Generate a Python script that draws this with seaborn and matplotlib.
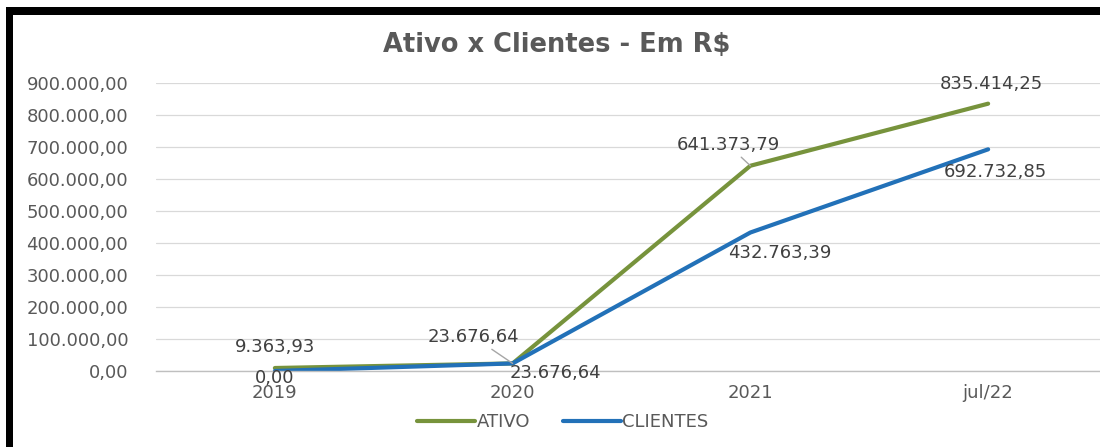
import matplotlib
matplotlib.use("Agg")
import matplotlib.pyplot as plt
from matplotlib.patches import Rectangle
from matplotlib.lines import Line2D
import seaborn as sns
import pandas as pd

categories = ["2019", "2020", "2021", "jul/22"]
ativo = [9363.93, 23676.64, 641373.79, 835414.25]
clientes = [0.00, 23676.64, 432763.39, 692732.85]
yticks = [0, 100000, 200000, 300000, 400000, 500000, 600000, 700000, 800000, 900000]

def br(v):
    s = f"{v:,.2f}"
    return s.replace(",", "X").replace(".", ",").replace("X", ".")

df = pd.DataFrame({
    "cat": categories * 2,
    "valor": ativo + clientes,
    "serie": ["ATIVO"] * 4 + ["CLIENTES"] * 4,
})

sns.set_theme(style="white")
plt.rcParams["font.family"] = ["DejaVu Sans"]

GREEN = "#77933C"
BLUE = "#2271B8"
GRAY = "#595959"
FS = 13

fig = plt.figure(figsize=(11, 4.47), dpi=100)
ax = fig.add_axes([156 / 1100, 76 / 447, 951 / 1100, 288 / 447])

sns.lineplot(data=df, x="cat", y="valor", hue="serie", sort=False,
             palette={"ATIVO": GREEN, "CLIENTES": BLUE}, linewidth=3.0,
             legend=False, ax=ax)

ax.set_xlim(-0.5, 3.5)
ax.set_ylim(0, 900000)
ax.set_yticks(yticks)
ax.set_yticklabels([br(v) for v in yticks])
ax.set_xlabel("")
ax.set_ylabel("")
ax.grid(axis="y", color="#D9D9D9", linewidth=0.9)
ax.set_axisbelow(True)
for s in ["top", "right", "left"]:
    ax.spines[s].set_visible(False)
ax.spines["bottom"].set_color("#BFBFBF")
ax.spines["bottom"].set_linewidth(1.0)
ax.tick_params(axis="y", length=0, pad=20, labelsize=FS, labelcolor=GRAY)
ax.tick_params(axis="x", length=0, pad=9, labelsize=FS, labelcolor=GRAY)

lab_kw = dict(textcoords="offset points", ha="center", va="center",
              fontsize=FS, color="#404040")
leader = dict(arrowstyle="-", color="#A6A6A6", lw=1.0, shrinkA=0, shrinkB=0)

# ATIVO labels
ax.annotate(br(ativo[0]), (0, ativo[0]), xytext=(0, 15), **lab_kw)
ax.annotate(br(ativo[1]), (1, ativo[1]), xytext=(-28, 19), arrowprops=leader, **lab_kw)
ax.annotate(br(ativo[2]), (2, ativo[2]), xytext=(-16, 15), arrowprops=leader, **lab_kw)
ax.annotate(br(ativo[3]), (3, ativo[3]), xytext=(2, 14), **lab_kw)
# CLIENTES labels
ax.annotate(br(clientes[0]), (0, clientes[0]), xytext=(0, -5), **lab_kw)
ax.annotate(br(clientes[1]), (1, clientes[1]), xytext=(31, -7), **lab_kw)
ax.annotate(br(clientes[2]), (2, clientes[2]), xytext=(21, -15), **lab_kw)
ax.annotate(br(clientes[3]), (3, clientes[3]), xytext=(5, -16), **lab_kw)

fig.text(557 / 1100, 1 - 45 / 447, "Ativo x Clientes - Em R$", ha="center", va="center",
         fontsize=18.5, fontweight="bold", color=GRAY)

handles = [Line2D([], [], color=GREEN, lw=3.0), Line2D([], [], color=BLUE, lw=3.0)]
leg = fig.legend(handles, ["ATIVO", "CLIENTES"], loc="center",
                 bbox_to_anchor=(563 / 1100, 1 - 422 / 447), ncol=2, frameon=False,
                 fontsize=FS, handlelength=3.2, handletextpad=0.1, columnspacing=1.8)
for t in leg.get_texts():
    t.set_color(GRAY)

# black frame (left and top)
fig.patches.append(Rectangle((6 / 1100, 0), 7 / 1100, 1 - 7 / 447, transform=fig.transFigure,
                             facecolor="black", edgecolor="none", zorder=10))
fig.patches.append(Rectangle((6 / 1100, 1 - 15 / 447), 1, 8 / 447, transform=fig.transFigure,
                             facecolor="black", edgecolor="none", zorder=10))

fig.savefig("out.png", dpi=100)
